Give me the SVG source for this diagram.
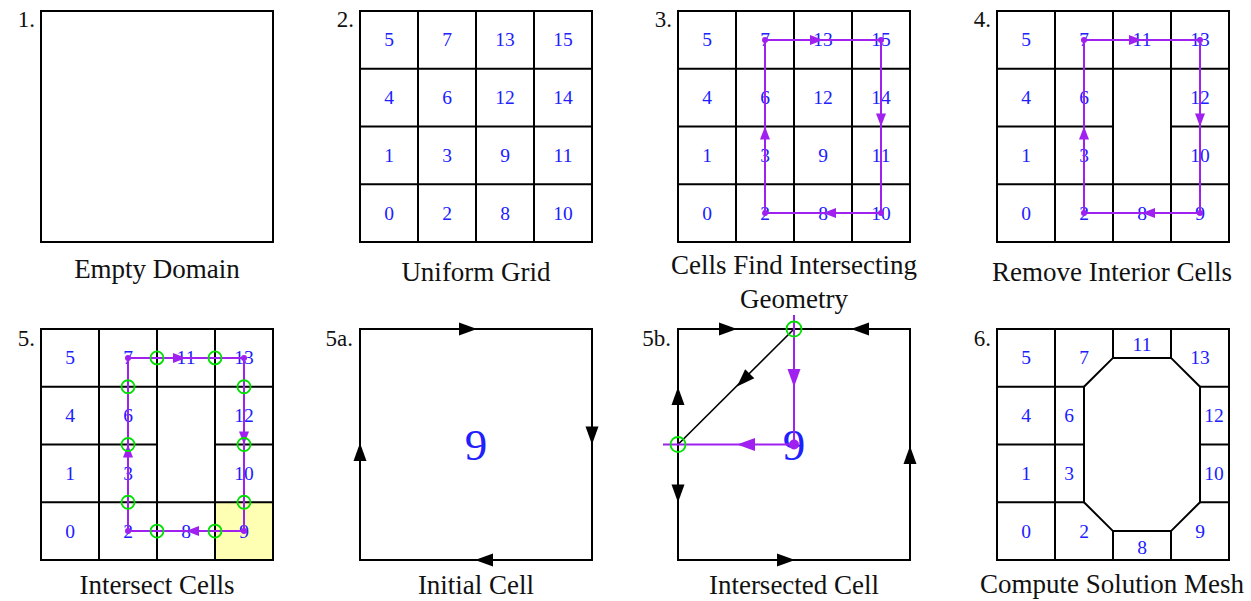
<svg xmlns="http://www.w3.org/2000/svg" xmlns:xlink="http://www.w3.org/1999/xlink" width="1251" height="601" viewBox="0 0 1251 601">
<style>
.frame{fill:none;stroke:#000;stroke-width:2}
.ln{fill:none;stroke:#000;stroke-width:2}
.thin{fill:none;stroke:#000;stroke-width:1.6}
.pp{fill:none;stroke:#a020f0;stroke-width:2}
.pf{fill:#a020f0}
.bk{fill:#000}
.gc{fill:none;stroke:#00e000;stroke-width:1.8}
.num{font-family:"Liberation Serif","DejaVu Serif",serif;font-size:19.5px;fill:#2020ff;text-anchor:middle}
.big{font-family:"Liberation Serif","DejaVu Serif",serif;font-size:45px;fill:#2020ff;text-anchor:middle}
.ttl{font-family:"Liberation Serif","DejaVu Serif",serif;font-size:27px;fill:#111;text-anchor:middle}
.lbl{font-family:"Liberation Serif","DejaVu Serif",serif;font-size:23px;fill:#111;text-anchor:end}
</style>
<defs>
<path id="ah" d="M0,0 L-13,-5 L-13,5 Z"/>
<path id="ab" d="M0,0 L-18,-6.5 L-18,6.5 Z"/>
</defs>

<!-- Panel 1 -->
<g id="panel1">
<rect class="frame" x="41" y="11" width="232" height="231"/>
<text class="lbl" x="35" y="27">1.</text>
<text class="ttl" x="157" y="278">Empty Domain</text>
</g>

<!-- Panel 2 -->
<g id="panel2">
<rect class="frame" x="360" y="11" width="232" height="231"/>
<path class="ln" d="M418,11V242M476,11V242M534,11V242M360,68.75H592M360,126.5H592M360,184.25H592"/>
<text class="lbl" x="354" y="27">2.</text>
<g>
<text class="num" x="389" y="46.4">5</text><text class="num" x="447" y="46.4">7</text><text class="num" x="505" y="46.4">13</text><text class="num" x="563" y="46.4">15</text>
<text class="num" x="389" y="104.1">4</text><text class="num" x="447" y="104.1">6</text><text class="num" x="505" y="104.1">12</text><text class="num" x="563" y="104.1">14</text>
<text class="num" x="389" y="161.9">1</text><text class="num" x="447" y="161.9">3</text><text class="num" x="505" y="161.9">9</text><text class="num" x="563" y="161.9">11</text>
<text class="num" x="389" y="219.6">0</text><text class="num" x="447" y="219.6">2</text><text class="num" x="505" y="219.6">8</text><text class="num" x="563" y="219.6">10</text>
</g>
<text class="ttl" x="476" y="281">Uniform Grid</text>
</g>

<!-- Panel 3 -->
<g id="panel3">
<rect class="frame" x="678" y="11" width="232" height="231"/>
<path class="ln" d="M736,11V242M794,11V242M852,11V242M678,68.75H910M678,126.5H910M678,184.25H910"/>
<text class="lbl" x="672" y="27">3.</text>
<g>
<text class="num" x="707" y="46.4">5</text><text class="num" x="765" y="46.4">7</text><text class="num" x="823" y="46.4">13</text><text class="num" x="881" y="46.4">15</text>
<text class="num" x="707" y="104.1">4</text><text class="num" x="765" y="104.1">6</text><text class="num" x="823" y="104.1">12</text><text class="num" x="881" y="104.1">14</text>
<text class="num" x="707" y="161.9">1</text><text class="num" x="765" y="161.9">3</text><text class="num" x="823" y="161.9">9</text><text class="num" x="881" y="161.9">11</text>
<text class="num" x="707" y="219.6">0</text><text class="num" x="765" y="219.6">2</text><text class="num" x="823" y="219.6">8</text><text class="num" x="881" y="219.6">10</text>
</g>
<g id="connectors3">
<path class="pp" d="M765,213.1V39.9H881V213.1Z"/>
<g class="pf">
<circle cx="765" cy="39.9" r="3"/><circle cx="881" cy="39.9" r="3"/><circle cx="881" cy="213.1" r="3"/><circle cx="765" cy="213.1" r="3"/>
<use xlink:href="#ah" transform="translate(765,126.5) rotate(-90)"/>
<use xlink:href="#ah" transform="translate(823,39.9)"/>
<use xlink:href="#ah" transform="translate(881,126.5) rotate(90)"/>
<use xlink:href="#ah" transform="translate(823,213.1) rotate(180)"/>
</g>
</g>
<text class="ttl" x="794" y="274">Cells Find Intersecting</text>
<text class="ttl" x="794" y="308">Geometry</text>
</g>

<!-- Panel 4 -->
<g id="panel4">
<rect class="frame" x="997" y="11" width="232" height="231"/>
<path class="ln" d="M1055,11V242M1113,11V242M1171,11V242M997,68.75H1229M997,126.5H1113M1171,126.5H1229M997,184.25H1229"/>
<text class="lbl" x="991" y="27">4.</text>
<g>
<text class="num" x="1026" y="46.4">5</text><text class="num" x="1084" y="46.4">7</text><text class="num" x="1142" y="46.4">11</text><text class="num" x="1200" y="46.4">13</text>
<text class="num" x="1026" y="104.1">4</text><text class="num" x="1084" y="104.1">6</text><text class="num" x="1200" y="104.1">12</text>
<text class="num" x="1026" y="161.9">1</text><text class="num" x="1084" y="161.9">3</text><text class="num" x="1200" y="161.9">10</text>
<text class="num" x="1026" y="219.6">0</text><text class="num" x="1084" y="219.6">2</text><text class="num" x="1142" y="219.6">8</text><text class="num" x="1200" y="219.6">9</text>
</g>
<g id="connectors4">
<path class="pp" d="M1084,213.1V39.9H1200V213.1Z"/>
<g class="pf">
<circle cx="1084" cy="39.9" r="3"/><circle cx="1200" cy="39.9" r="3"/><circle cx="1200" cy="213.1" r="3"/><circle cx="1084" cy="213.1" r="3"/>
<use xlink:href="#ah" transform="translate(1084,126.5) rotate(-90)"/>
<use xlink:href="#ah" transform="translate(1142,39.9)"/>
<use xlink:href="#ah" transform="translate(1200,126.5) rotate(90)"/>
<use xlink:href="#ah" transform="translate(1142,213.1) rotate(180)"/>
</g>
</g>
<text class="ttl" x="1112" y="281">Remove Interior Cells</text>
</g>

<!-- Panel 5 -->
<g id="panel5">
<rect x="215" y="502.25" width="58" height="57.75" fill="#ffffb3"/>
<rect class="frame" x="41" y="329" width="232" height="231"/>
<path class="ln" d="M99,329V560M157,329V560M215,329V560M41,386.75H273M41,444.5H157M215,444.5H273M41,502.25H273"/>
<text class="lbl" x="35" y="346">5.</text>
<g>
<text class="num" x="70" y="364.4">5</text><text class="num" x="128" y="364.4">7</text><text class="num" x="186" y="364.4">11</text><text class="num" x="244" y="364.4">13</text>
<text class="num" x="70" y="422.1">4</text><text class="num" x="128" y="422.1">6</text><text class="num" x="244" y="422.1">12</text>
<text class="num" x="70" y="479.9">1</text><text class="num" x="128" y="479.9">3</text><text class="num" x="244" y="479.9">10</text>
<text class="num" x="70" y="537.6">0</text><text class="num" x="128" y="537.6">2</text><text class="num" x="186" y="537.6">8</text><text class="num" x="244" y="537.6">9</text>
</g>
<g id="connectors5">
<path class="pp" d="M128,531.1V357.9H244V531.1Z"/>
<g class="pf">
<circle cx="128" cy="357.9" r="3"/><circle cx="244" cy="357.9" r="3"/><circle cx="244" cy="531.1" r="3"/><circle cx="128" cy="531.1" r="3"/>
<use xlink:href="#ah" transform="translate(128,444.5) rotate(-90)"/>
<use xlink:href="#ah" transform="translate(186,357.9)"/>
<use xlink:href="#ah" transform="translate(244,444.5) rotate(90)"/>
<use xlink:href="#ah" transform="translate(186,531.1) rotate(180)"/>
</g>
<g class="gc">
<circle cx="128" cy="386.75" r="6.5"/><circle cx="128" cy="444.5" r="6.5"/><circle cx="128" cy="502.25" r="6.5"/>
<circle cx="157" cy="357.9" r="6.5"/><circle cx="215" cy="357.9" r="6.5"/>
<circle cx="244" cy="386.75" r="6.5"/><circle cx="244" cy="444.5" r="6.5"/><circle cx="244" cy="502.25" r="6.5"/>
<circle cx="157" cy="531.1" r="6.5"/><circle cx="215" cy="531.1" r="6.5"/>
</g>
</g>
<text class="ttl" x="157" y="594">Intersect Cells</text>
</g>

<!-- Panel 5a -->
<g id="panel5a">
<rect class="frame" x="360" y="329" width="232" height="231"/>
<text class="lbl" x="353" y="346">5a.</text>
<g class="bk">
<use xlink:href="#ab" transform="translate(477,329)"/>
<use xlink:href="#ab" transform="translate(592,444.5) rotate(90)"/>
<use xlink:href="#ab" transform="translate(475,560) rotate(180)"/>
<use xlink:href="#ab" transform="translate(360,443) rotate(-90)"/>
</g>
<text class="big" x="476" y="460">9</text>
<text class="ttl" x="476" y="594">Initial Cell</text>
</g>

<!-- Panel 5b -->
<g id="panel5b">
<rect class="frame" x="678" y="329" width="232" height="231"/>
<text class="lbl" x="671" y="346">5b.</text>
<path class="thin" d="M794,329L678,444.5"/>
<g class="bk">
<use xlink:href="#ab" transform="translate(737,329)"/>
<use xlink:href="#ab" transform="translate(851,329) rotate(180)"/>
<use xlink:href="#ab" transform="translate(678,387) rotate(-90)"/>
<use xlink:href="#ab" transform="translate(678,502.5) rotate(90)"/>
<use xlink:href="#ab" transform="translate(795,560)"/>
<use xlink:href="#ab" transform="translate(910,446) rotate(-90)"/>
<use xlink:href="#ab" transform="translate(737,386.5) rotate(135)"/>
</g>
<text class="big" x="794" y="460">9</text>
<g id="connectors5b">
<path class="pp" d="M794,315V444.5H663"/>
<g class="pf">
<circle cx="794" cy="444.5" r="5"/>
<use xlink:href="#ab" transform="translate(794,387) rotate(90)"/>
<use xlink:href="#ab" transform="translate(737,444.5) rotate(180)"/>
</g>
<g class="gc">
<circle cx="794" cy="329" r="7.5"/><circle cx="678" cy="444.5" r="7.5"/>
</g>
</g>
<text class="ttl" x="794" y="594">Intersected Cell</text>
</g>

<!-- Panel 6 -->
<g id="panel6">
<rect class="frame" x="997" y="329" width="232" height="231"/>
<path class="ln" d="M1055,329V560M1113,329V357.9M1171,329V357.9M1113,531.1V560M1171,531.1V560M997,386.75H1084M1200,386.75H1229M997,444.5H1084M1200,444.5H1229M997,502.25H1084M1200,502.25H1229"/>
<path class="ln" d="M1113,357.9H1171L1200,386.75V502.25L1171,531.1H1113L1084,502.25V386.75Z"/>
<text class="lbl" x="991" y="346">6.</text>
<g>
<text class="num" x="1026" y="364.4">5</text><text class="num" x="1084" y="364.4">7</text><text class="num" x="1142" y="350.5">11</text><text class="num" x="1200" y="364.4">13</text>
<text class="num" x="1026" y="422.1">4</text><text class="num" x="1069" y="422.1">6</text><text class="num" x="1214" y="422.1">12</text>
<text class="num" x="1026" y="479.9">1</text><text class="num" x="1069" y="479.9">3</text><text class="num" x="1214" y="479.9">10</text>
<text class="num" x="1026" y="537.6">0</text><text class="num" x="1084" y="537.6">2</text><text class="num" x="1142" y="553.5">8</text><text class="num" x="1200" y="537.6">9</text>
</g>
<text class="ttl" x="1112" y="593">Compute Solution Mesh</text>
</g>
</svg>
